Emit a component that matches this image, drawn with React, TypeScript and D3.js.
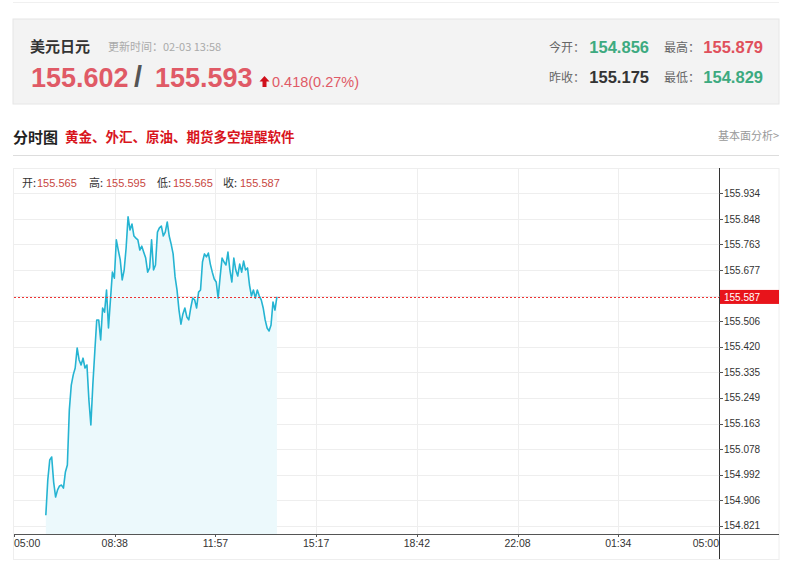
import React from "react";
import * as d3 from "d3";

// ---- data ----
const TIME_LABELS = ["05:00", "08:38", "11:57", "15:17", "18:42", "22:08", "01:34", "05:00"];
const Y_TICKS = [154.821, 154.906, 154.992, 155.078, 155.163, 155.249, 155.335, 155.42, 155.506, 155.591, 155.677, 155.763, 155.848, 155.934];
const START_MIN = 65; // minutes after 05:00
const STEP_MIN = 4;
const PRICES = [
  154.856, 154.974, 155.041, 155.051, 154.967, 154.917, 154.941, 154.954, 154.957, 154.947,
  155.001, 155.024, 155.208, 155.292, 155.326, 155.349, 155.416, 155.376, 155.359, 155.382,
  155.349, 155.359, 155.242, 155.158, 155.292, 155.403, 155.51, 155.51, 155.443, 155.55,
  155.536, 155.61, 155.483, 155.577, 155.67, 155.65, 155.778, 155.744, 155.711, 155.644,
  155.677, 155.751, 155.855, 155.811, 155.831, 155.791, 155.784, 155.778, 155.744, 155.757,
  155.737, 155.717, 155.67, 155.684, 155.778, 155.677, 155.694, 155.804, 155.818, 155.824,
  155.791, 155.804, 155.838, 155.791, 155.764, 155.731, 155.654, 155.61, 155.543, 155.496,
  155.53, 155.55, 155.52, 155.51, 155.55, 155.583, 155.577, 155.55, 155.603, 155.61,
  155.704, 155.731, 155.721, 155.734, 155.697, 155.67, 155.647, 155.637, 155.583, 155.654,
  155.717, 155.704, 155.694, 155.737, 155.677, 155.637, 155.717, 155.677, 155.657, 155.697,
  155.67, 155.707, 155.677, 155.684, 155.627, 155.59, 155.61, 155.583, 155.61, 155.59,
  155.577, 155.55, 155.51, 155.483, 155.473, 155.493, 155.57, 155.543, 155.587,
];
const CURRENT = 155.587;
const OHLC_LABELS = ["开:", "高:", "低:", "收:"];
const OHLC_VALUES = ["155.565", "155.595", "155.565", "155.587"];
const BID = "155.602";
const ASK = "155.593";
const CHANGE = "0.418(0.27%)";
const STAT_LABELS = ["今开：", "最高：", "昨收：", "最低："];
const STAT_VALUES = ["154.856", "155.879", "155.175", "154.829"];
const STAT_COLORS = ["#3daa80", "#e0505c", "#333333", "#3daa80"];

const CJK = "'Noto Sans CJK SC', 'Noto Sans', sans-serif";
const NUM = "'Liberation Sans', Arial, sans-serif";

export default function App() {
  const left = 14, right = 719, top = 168, bottom = 534;
  const boxRight = 779, boxBottom = 559;
  const x = d3.scaleLinear().domain([0, 1440]).range([left, right]);
  const xt = d3.scalePoint<number>().domain(TIME_LABELS.map((_, i) => i)).range([left, right]);
  const y = d3.scaleLinear().domain([154.821, 155.934]).range([525.7, 193.3]);
  const pts = PRICES.map((p, i) => ({ t: START_MIN + i * STEP_MIN, p }));
  const line = d3.line<{ t: number; p: number }>().x(d => x(d.t)).y(d => y(d.p));
  const area = d3.area<{ t: number; p: number }>().x(d => x(d.t)).y0(bottom).y1(d => y(d.p));
  const cy = y(CURRENT);
  const ohlcX = [22, 89, 157, 223];
  const ohlcVX = [37, 106, 173, 240];

  return (
    <svg width={800} height={568} style={{ position: "absolute", left: 0, top: 0, background: "#fff" }}>
      <rect x={0} y={0} width={800} height={568} fill="#fff" />
      <line x1={13} x2={779} y1={2.5} y2={2.5} stroke="#f0f0f0" />
      {/* header box */}
      <rect x={13} y={19} width={766} height={85} fill="#f3f3f3" stroke="#e6e6e6" />
      <text x={30} y={52} fontFamily={CJK} fontSize={15} fontWeight="bold" fill="#333">美元日元</text>
      <text x={108} y={51} fontFamily={CJK} fontSize={11} fill="#aaa">更新时间：02-03 13:58</text>
      <text x={31} y={87} fontFamily={NUM} fontSize={27} fontWeight="bold" fill="#e05a66">{BID}</text>
      <text x={134} y={87} fontFamily={NUM} fontSize={29} fontWeight="bold" fill="#555">/</text>
      <text x={155} y={87} fontFamily={NUM} fontSize={27} fontWeight="bold" fill="#e05a66">{ASK}</text>
      <path d="M264.5,76 L269.5,81.5 L266.5,81.5 L266.5,87 L262.5,87 L262.5,81.5 L259.5,81.5 Z" fill="#d0101b" />
      <text x={272} y={87} fontFamily={NUM} fontSize={14.5} fill="#e05a66">{CHANGE}</text>
      {STAT_LABELS.map((l, i) => {
        const col = i % 2, row = Math.floor(i / 2);
        const lx = col === 0 ? 549 : 664;
        const vx = col === 0 ? 649 : 763;
        const by = row === 0 ? 53 : 83;
        return (
          <g key={l}>
            <text x={lx} y={by - 1} fontFamily={CJK} fontSize={12} fill="#666">{l}</text>
            <text x={vx} y={by} textAnchor="end" fontFamily={NUM} fontSize={16.5} fontWeight="bold" fill={STAT_COLORS[i]}>{STAT_VALUES[i]}</text>
          </g>
        );
      })}
      {/* section title */}
      <text x={13} y={143} fontFamily={CJK} fontSize={15} fontWeight="bold" fill="#222">分时图</text>
      <text x={65} y={142} fontFamily={CJK} fontSize={13.5} fontWeight="bold" fill="#d8141c">黄金、外汇、原油、期货多空提醒软件</text>
      <text x={779} y={140} textAnchor="end" fontFamily={CJK} fontSize={11} fill="#999">基本面分析&gt;</text>
      <line x1={13} x2={779} y1={155.5} y2={155.5} stroke="#ddd" />
      {/* chart box */}
      <rect x={13.5} y={top + 0.5} width={boxRight - 13.5} height={boxBottom - top} fill="#fff" stroke="#eee" />
      {/* grid */}
      {Y_TICKS.map(t => (
        <line key={"g" + t} x1={left} x2={right} y1={Math.round(y(t)) + 0.5} y2={Math.round(y(t)) + 0.5} stroke="#eeeeee" />
      ))}
      {TIME_LABELS.map((_, i) => (
        i > 0 && i < TIME_LABELS.length - 1 ? (
          <line key={"v" + i} x1={Math.round(xt(i)!) + 0.5} x2={Math.round(xt(i)!) + 0.5} y1={top} y2={bottom} stroke="#eeeeee" />
        ) : null
      ))}
      {/* area + line */}
      <path d={area(pts)!} fill="#ecf9fc" />
      <path d={line(pts)!} fill="none" stroke="#25b4d2" strokeWidth={1.6} strokeLinejoin="round" />
      {/* current price dashed */}
      <line x1={left} x2={right} y1={Math.round(cy) + 0.5} y2={Math.round(cy) + 0.5} stroke="#ee3333" strokeDasharray="2,2" />
      {/* OHLC */}
      {OHLC_LABELS.map((l, i) => (
        <g key={l}>
          <text x={ohlcX[i]} y={187} fontFamily={CJK} fontSize={11} fill="#333">{l}</text>
          <text x={ohlcVX[i]} y={187} fontFamily={NUM} fontSize={11} fill="#c8473f">{OHLC_VALUES[i]}</text>
        </g>
      ))}
      {/* axes */}
      <line x1={left} x2={boxRight} y1={bottom + 0.5} y2={bottom + 0.5} stroke="#555" />
      <line x1={right + 0.5} x2={right + 0.5} y1={top} y2={boxBottom} stroke="#333" />
      {Y_TICKS.map(t => (
        <g key={"t" + t}>
          <line x1={right} x2={right + 4} y1={Math.round(y(t)) + 0.5} y2={Math.round(y(t)) + 0.5} stroke="#555" />
          <text x={724} y={y(t) + 3.6} fontFamily={NUM} fontSize={10} fill="#333">{t.toFixed(3)}</text>
        </g>
      ))}
      {TIME_LABELS.map((l, i) => (
        <g key={"x" + i}>
          <line x1={Math.round(xt(i)!) + 0.5} x2={Math.round(xt(i)!) + 0.5} y1={bottom} y2={bottom + 3} stroke="#555" />
          <text
            x={xt(i)!}
            y={547}
            textAnchor={i === 0 ? "start" : i === TIME_LABELS.length - 1 ? "end" : "middle"}
            fontFamily={NUM}
            fontSize={10.5}
            fill="#333"
          >{l}</text>
        </g>
      ))}
      {/* current price label */}
      <rect x={720} y={cy - 7} width={59} height={14} fill="#e8141b" />
      <text x={724} y={cy + 3.6} fontFamily={NUM} fontSize={10} fill="#fff">{CURRENT.toFixed(3)}</text>
    </svg>
  );
}
